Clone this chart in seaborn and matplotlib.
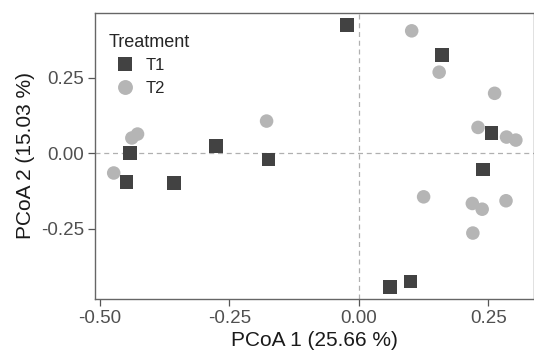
import pandas as pd
import matplotlib.pyplot as plt
import seaborn as sns

# PCoA scores
t1_x = [-0.023, 0.160, -0.442, -0.448, -0.357, -0.276, -0.174, 0.256, 0.240, 0.060, 0.100]
t1_y = [0.424, 0.325, 0.000, -0.096, -0.100, 0.024, -0.021, 0.067, -0.054, -0.443, -0.426]
t2_x = [0.102, 0.155, 0.262, 0.230, 0.285, 0.303, 0.125, 0.219, 0.238, 0.284, 0.220,
        -0.178, -0.427, -0.438, -0.473]
t2_y = [0.405, 0.268, 0.198, 0.085, 0.053, 0.043, -0.145, -0.167, -0.186, -0.158, -0.265,
        0.106, 0.063, 0.050, -0.066]
x_ticks = [-0.50, -0.25, 0.00, 0.25]
y_ticks = [-0.25, 0.00, 0.25]


def main():
    df = pd.DataFrame({
        'PC1': t1_x + t2_x,
        'PC2': t1_y + t2_y,
        'Treatment': ['T1'] * len(t1_x) + ['T2'] * len(t2_x),
    })

    sns.set_theme(style='white')
    plt.rcParams['font.family'] = ['Liberation Sans', 'DejaVu Sans']

    fig = plt.figure(figsize=(5.34, 3.52), dpi=100)
    ax = fig.add_axes([0.178, 0.151, 0.822, 0.812])

    ax.axhline(0, color='#b0b0b0', lw=0.9, ls=(0, (4, 3)), zorder=0)
    ax.axvline(0, color='#b0b0b0', lw=0.9, ls=(0, (4, 3)), zorder=0)

    sns.scatterplot(data=df, x='PC1', y='PC2', hue='Treatment', style='Treatment',
                    palette={'T1': '#424242', 'T2': '#b5b5b5'},
                    markers={'T1': 's', 'T2': 'o'}, s=95, linewidth=0,
                    ax=ax, zorder=3)

    ax.set_xlim(-0.509, 0.338)
    ax.set_ylim(-0.483, 0.464)
    ax.set_xticks(x_ticks)
    ax.set_yticks(y_ticks)
    ax.set_xticklabels([f'{v:.2f}' for v in x_ticks])
    ax.set_yticklabels([f'{v:.2f}' for v in y_ticks])
    ax.tick_params(axis='both', which='both', direction='out', length=5, width=0.9,
                   color='#555555', labelcolor='#505050', labelsize=13.5, pad=3,
                   bottom=True, left=True)

    ax.set_xlabel('PCoA 1 (25.66 %)', fontsize=15, color='#1a1a1a', labelpad=3)
    ax.set_ylabel('PCoA 2 (15.03 %)', fontsize=15, color='#1a1a1a', labelpad=4)

    for sp in ax.spines.values():
        sp.set_color('#666666')
        sp.set_linewidth(1.0)

    leg = ax.legend(title='Treatment', loc='upper left', frameon=False,
                    fontsize=12, title_fontsize=13, markerscale=1.1,
                    handletextpad=0.25, labelspacing=0.45,
                    bbox_to_anchor=(0.0, 0.975), borderaxespad=0.4)
    leg._legend_box.align = 'left'

    fig.savefig('out.png', dpi=100)
    plt.close(fig)


if __name__ == '__main__':
    main()
